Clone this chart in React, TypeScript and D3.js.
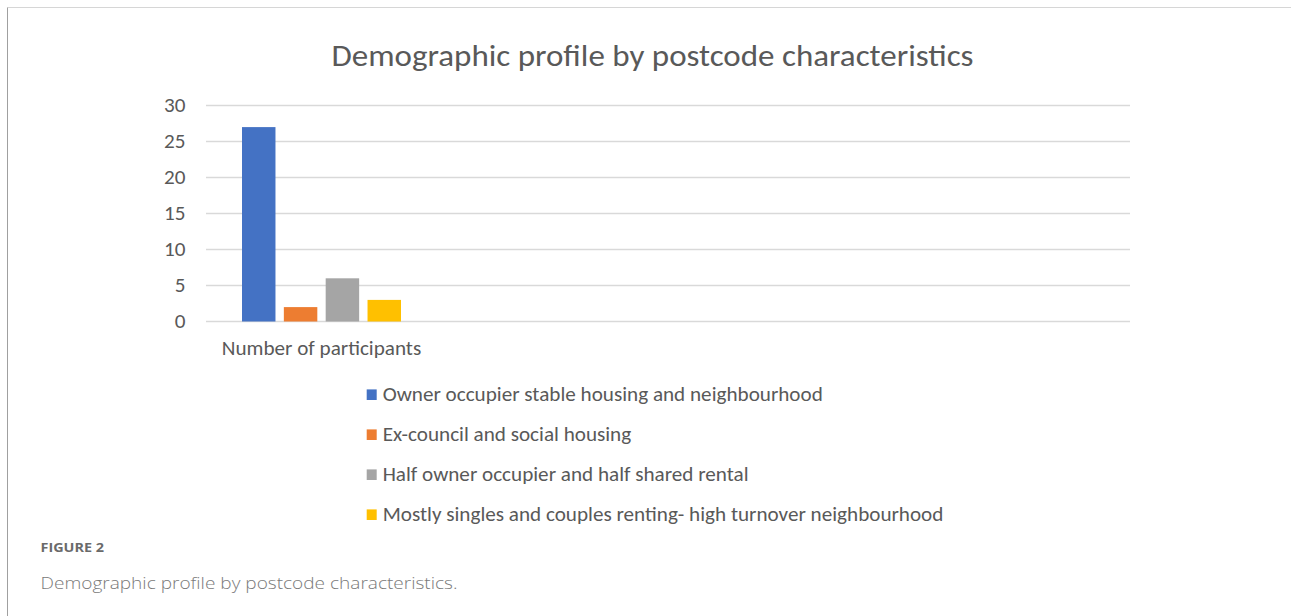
import React from "react";
import * as d3 from "d3";

const categories = ["Number of participants", "", "", ""];
const seriesNames = [
  "Owner occupier stable housing and neighbourhood",
  "Ex-council and social housing",
  "Half owner occupier and half shared rental",
  "Mostly singles and couples renting- high turnover neighbourhood",
];
const seriesValues = [27, 2, 6, 3];
const seriesColors = ["#4472C4", "#ED7D31", "#A5A5A5", "#FFC000"];
const yTicks = [0, 5, 10, 15, 20, 25, 30];

const W = 1291;
const H = 616;
const plot = { left: 206, right: 1130, top: 105.5, bottom: 321.5 };
const font = "Calibri, Carlito, 'Open Sans', sans-serif";
const SX = 1.085;

export default function App() {
  const y = d3.scaleLinear().domain([0, 30]).range([plot.bottom, plot.top]);
  const x0 = d3
    .scaleBand<number>()
    .domain(categories.map((_, i) => i))
    .range([plot.left, plot.right]);
  const groupW = 159;
  const x1 = d3
    .scaleBand<number>()
    .domain(seriesNames.map((_, i) => i))
    .range([0, groupW])
    .paddingInner(0.2)
    .paddingOuter(0);
  const off = (x0.bandwidth() - groupW) / 2;

  return (
    <svg
      width={W}
      height={H}
      style={{ position: "absolute", left: 0, top: 0, background: "#fff" }}
    >
      <line x1={7.5} y1={7.5} x2={W} y2={7.5} stroke="#d6d6d6" strokeWidth={1} />
      <line x1={7.5} y1={7.5} x2={7.5} y2={H} stroke="#a0a0a0" strokeWidth={1} />

      <text
        transform={`translate(652.5, 66) scale(1.1, 1)`}
        textAnchor="middle"
        fontFamily={font}
        fontSize={30}
        fill="#595959"
      >
        Demographic profile by postcode characteristics
      </text>

      {yTicks.map((t) => (
        <g key={t}>
          <line
            x1={plot.left}
            x2={plot.right}
            y1={y(t)}
            y2={y(t)}
            stroke="#d9d9d9"
            strokeWidth={1.3}
          />
          <text
            transform={`translate(185.5, ${y(t) + 6.5}) scale(${SX}, 1)`}
            textAnchor="end"
            fontFamily={font}
            fontSize={19.5}
            fill="#595959"
          >
            {t}
          </text>
        </g>
      ))}

      {seriesValues.map((v, i) => (
        <rect
          key={i}
          x={(x0(0) as number) + off + (x1(i) as number)}
          y={y(v)}
          width={x1.bandwidth()}
          height={plot.bottom - y(v)}
          fill={seriesColors[i]}
        />
      ))}

      {categories.map((c, i) => (
        <text
          key={i}
          transform={`translate(${(x0(i) as number) + x0.bandwidth() / 2}, 355) scale(${SX}, 1)`}
          textAnchor="middle"
          fontFamily={font}
          fontSize={19.5}
          fill="#595959"
        >
          {c}
        </text>
      ))}

      {seriesNames.map((s, i) => (
        <g key={s} transform={`translate(366.7, ${394.7 + i * 40})`}>
          <rect x={0} y={-5.3} width={10} height={10.6} fill={seriesColors[i]} />
          <text
            transform={`translate(16, 6.3) scale(${SX}, 1)`}
            fontFamily={font}
            fontSize={19.5}
            fill="#595959"
          >
            {s}
          </text>
        </g>
      ))}

      <text
        x={40.5}
        y={552}
        fontFamily="'Open Sans', Lato, sans-serif"
        fontWeight={700}
        fontSize={12}
        fill="#6a6a6a"
        textLength={63.5}
        lengthAdjust="spacingAndGlyphs"
      >
        FIGURE 2
      </text>
      <text
        x={40.5}
        y={589}
        fontFamily="'Open Sans', Lato, sans-serif"
        fontWeight={300}
        fontSize={16.5}
        fill="#7a7a7a"
        textLength={417}
        lengthAdjust="spacingAndGlyphs"
      >
        Demographic profile by postcode characteristics.
      </text>
    </svg>
  );
}
